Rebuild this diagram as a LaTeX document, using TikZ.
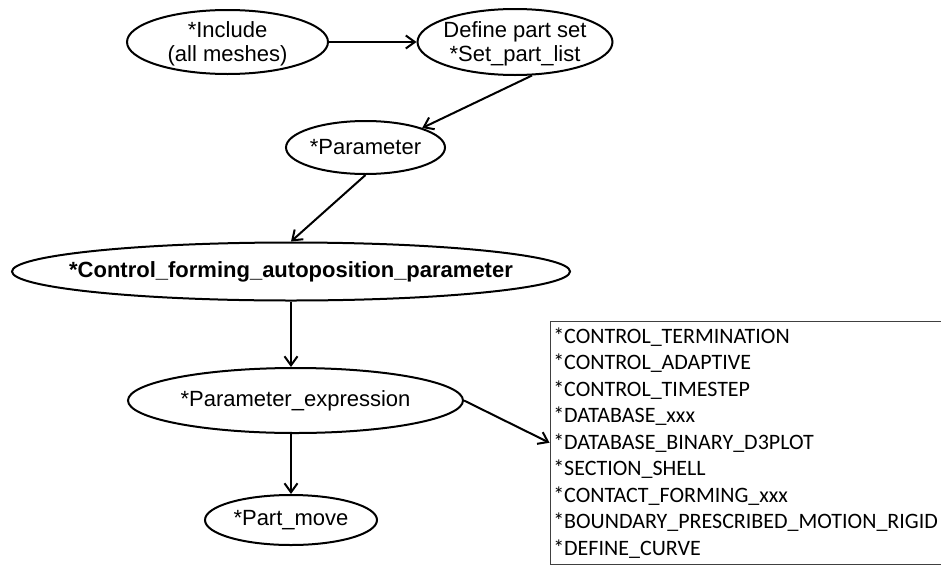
\documentclass[tikz,border=0pt]{standalone}
\usepackage{fontspec}
\setmainfont{Liberation Sans}
\newfontfamily\kwfont{Carlito}
\usetikzlibrary{shapes.geometric,arrows.meta}

\begin{document}
\begin{tikzpicture}[x=1pt,y=-1pt,
  stage/.style={ellipse,draw,line width=2pt,inner sep=0pt},
  stagetext/.style={align=center,inner sep=0pt,font=\fontsize{22}{24.5}\selectfont},
  link/.style={line width=2pt,-{Straight Barb[length=9pt,width=13pt]}},
  kwbox/.style={draw=black!75,line width=1.5pt,anchor=north west,inner xsep=3pt,
    inner ysep=0pt,text width=400pt,minimum height=243pt,align=left,
    font=\kwfont\fontsize{22}{26.5}\selectfont},
]
\useasboundingbox (0,0) rectangle (941,565);

% keyword stages (ellipse size fixed, text set as a centred label)
\node[stage,minimum width=201pt,minimum height=64pt,
  label={[stagetext,yshift=-2pt]center:{{}*Include\\(all meshes)}}] (incl) at (227.5,42) {};
\node[stage,minimum width=195pt,minimum height=66pt,
  label={[stagetext,yshift=-2pt]center:{Define part set\\{}*Set\_part\_list}}] (defn) at (515,42) {};
\node[stage,minimum width=159pt,minimum height=53pt,
  label={[stagetext]center:{*Parameter}}] (par) at (365.5,147.5) {};
\node[stage,minimum width=558pt,minimum height=58pt,
  label={[stagetext,font=\bfseries\fontsize{22}{25}\selectfont]center:{*Control\_forming\_autoposition\_parameter}}] (ctrl) at (291,271.5) {};
\node[stage,minimum width=335pt,minimum height=65pt,
  label={[stagetext]center:{*Parameter\_expression}}] (pexpr) at (295.5,400.5) {};
\node[stage,minimum width=172pt,minimum height=50pt,
  label={[stagetext]center:{*Part\_move}}] (pmove) at (291,520) {};

% keywords driven by the parameter expressions
\node[kwbox] (kw) at (549.5,320.5) {{}*CONTROL\_TERMINATION\\
{}*CONTROL\_ADAPTIVE\\
{}*CONTROL\_TIMESTEP\\
{}*DATABASE\_xxx\\
{}*DATABASE\_BINARY\_D3PLOT\\
{}*SECTION\_SHELL\\
{}*CONTACT\_FORMING\_xxx\\
{}*BOUNDARY\_PRESCRIBED\_MOTION\_RIGID\\
{}*DEFINE\_CURVE};

% connectors
\draw[link] (incl.east) -- (defn.west);
\draw[link] (defn.-63) -- (par.19);
\draw[link] (par.south) -- (ctrl.north);
\draw[link] (ctrl.south) -- (pexpr.north -| ctrl.south);
\draw[link] (pexpr.south -| pmove.north) -- (pmove.north);
\draw[link] (pexpr.east) -- (kw.west);
\end{tikzpicture}
\end{document}
